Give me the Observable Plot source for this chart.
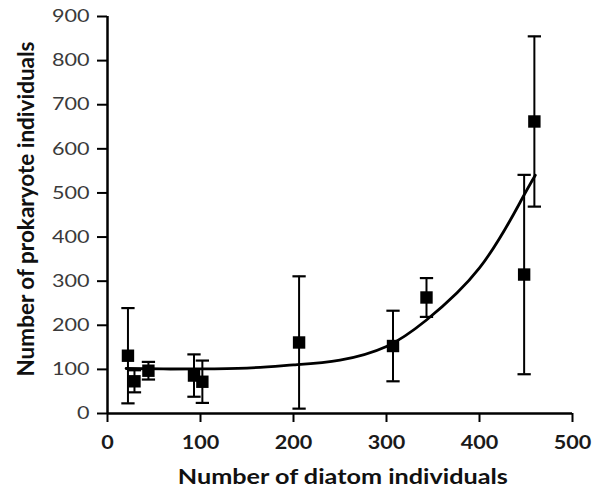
<!DOCTYPE html>
<html><head><meta charset="utf-8">
<script src="https://cdn.jsdelivr.net/npm/d3@7"></script>
<script src="https://cdn.jsdelivr.net/npm/@observablehq/plot@0.6"></script>
<style>body{margin:0;background:#fff}</style>
</head><body><div id="chart"></div>
<script>
const diatoms = [22, 29, 44, 93, 102, 206, 307, 343, 448, 459];
const prokaryotes = [131, 73, 97, 86, 72, 161, 153, 263, 315, 662];
const errors = [108, 25, 20, 48, 48, 150, 80, 44, 226, 193];
const trendX = [20, 60, 100, 150, 200, 250, 300, 343, 400, 444, 460];
const trendY = [102, 101, 101, 103, 110, 121, 152, 212, 330, 480, 540];
const xTicks = [0, 100, 200, 300, 400, 500];
const yTicks = [0, 100, 200, 300, 400, 500, 600, 700, 800, 900];

const pts = diatoms.map((x, i) => ({x, y: prokaryotes[i], lo: prokaryotes[i] - errors[i], hi: prokaryotes[i] + errors[i]}));
const trend = trendX.map((x, i) => ({x, y: trendY[i]}));
const cap = {draw(ctx, size) { const w = Math.sqrt(size); ctx.moveTo(-w / 2, 0); ctx.lineTo(w / 2, 0); }};

const font = "Lato, 'Open Sans', sans-serif";
const plot = Plot.plot({
  width: 602, height: 490,
  marginLeft: 107, marginRight: 30, marginTop: 16, marginBottom: 77,
  style: {fontFamily: font, fontSize: "18px", color: "#333", background: "#fff"},
  x: {domain: [0, 500], label: null},
  y: {domain: [0, 900], label: null},
  marks: [
    Plot.axisX({ticks: xTicks, tickSize: 9, tickPadding: 14, fontSize: 18, fontWeight: "bold", stroke: "#000", strokeWidth: 2, fill: "#1a1a1a"}),
    Plot.axisY({ticks: yTicks, tickSize: 10, tickPadding: 8, fontSize: 18, stroke: "#000", strokeWidth: 2, fill: "#3a3a3a"}),
    Plot.ruleY([0], {stroke: "#000", strokeWidth: 2.5}),
    Plot.ruleX([0], {stroke: "#000", strokeWidth: 2.5}),
    Plot.line(trend, {x: "x", y: "y", curve: "natural", stroke: "#000", strokeWidth: 2.8}),
    Plot.ruleX(pts, {x: "x", y1: "lo", y2: "hi", stroke: "#000", strokeWidth: 2}),
    Plot.dot(pts, {x: "x", y: "hi", symbol: cap, r: 7.5, stroke: "#000", strokeWidth: 2.2}),
    Plot.dot(pts, {x: "x", y: "lo", symbol: cap, r: 7.5, stroke: "#000", strokeWidth: 2.2}),
    Plot.dot(pts, {x: "x", y: "y", symbol: "square", r: 7, fill: "#000", stroke: "none"}),
    Plot.text(["Number of diatom individuals"], {frameAnchor: "bottom", lineAnchor: "bottom", dy: 70, x: 253, fontWeight: "bold", fontSize: 21, fill: "#111", textAnchor: "middle"}),
    Plot.text(["Number of prokaryote individuals"], {frameAnchor: "left", lineAnchor: "bottom", dx: -74, dy: -6, rotate: -90, fontWeight: "bold", fontSize: 22.5, fill: "#111", textAnchor: "middle"})
  ]
});
// mimic the horizontally stretched lettering of the reference
d3.select(plot).selectAll("text").each(function () {
  const t = d3.select(this);
  const tr = t.attr("transform") || "";
  if (tr.includes("rotate")) return;
  t.attr("transform", `${tr} scale(1.2,1)`);
});
document.getElementById("chart").append(plot);
</script></body></html>
